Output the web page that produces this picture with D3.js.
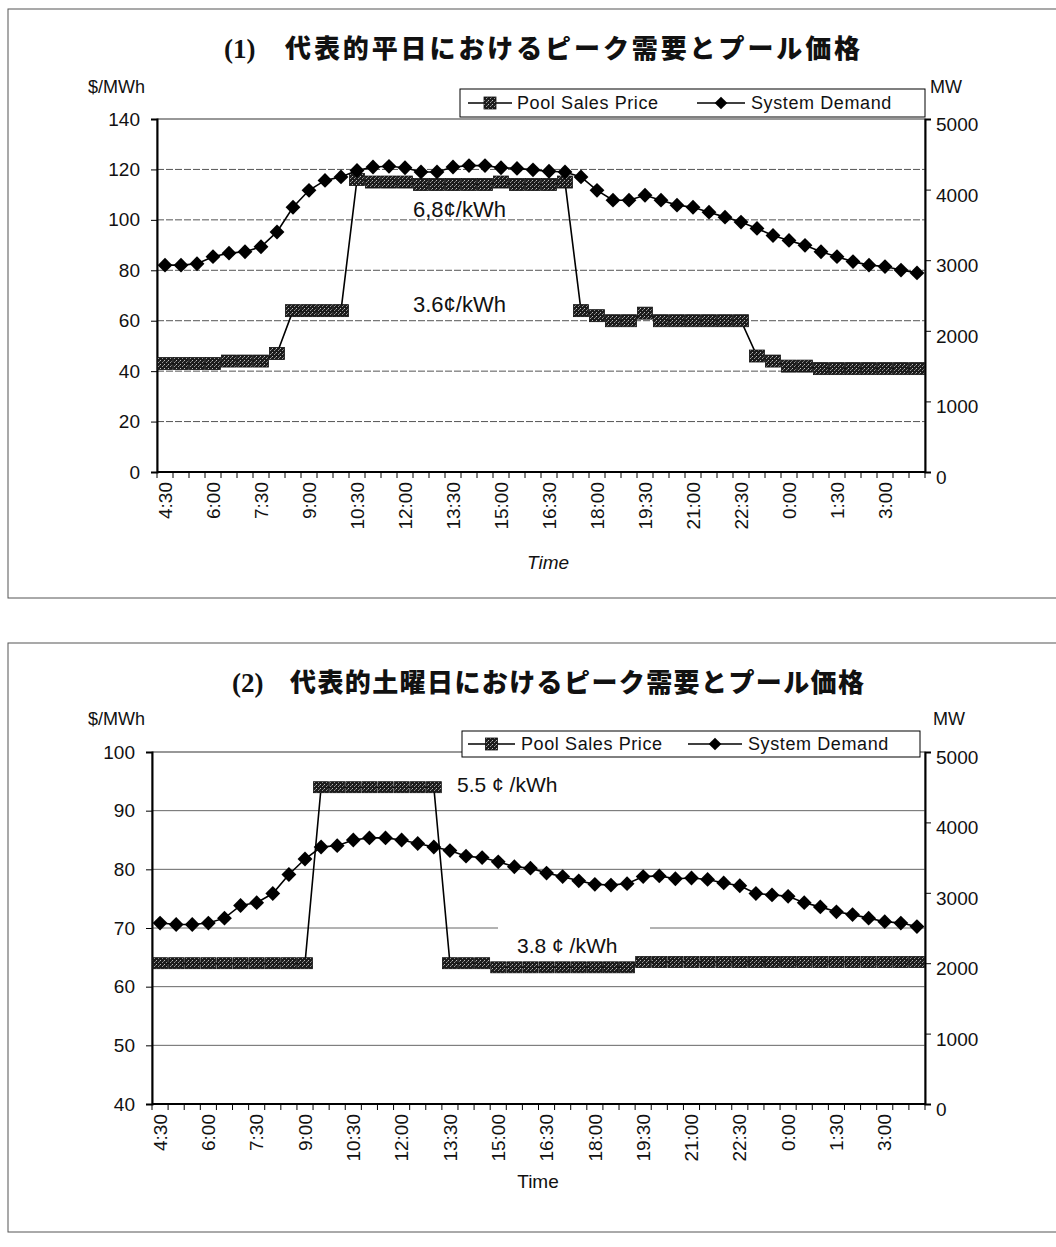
<!DOCTYPE html>
<html>
<head>
<meta charset="utf-8">
<script src="https://cdn.jsdelivr.net/npm/d3@7"></script>
<style>
  body { margin: 0; background: #fff; }
  svg { display: block; }
  text { font-family: "Liberation Sans", Arial, sans-serif; fill: #111; }
</style>
</head>
<body>
<svg id="chart" width="1056" height="1247"></svg>
<script>
// Half-hourly settlement periods, 4:30 through 4:00 the next morning
const times = ["4:30","5:00","5:30","6:00","6:30","7:00","7:30","8:00","8:30","9:00",
  "9:30","10:00","10:30","11:00","11:30","12:00","12:30","13:00","13:30","14:00",
  "14:30","15:00","15:30","16:00","16:30","17:00","17:30","18:00","18:30","19:00",
  "19:30","20:00","20:30","21:00","21:30","22:00","22:30","23:00","23:30","0:00",
  "0:30","1:00","1:30","2:00","2:30","3:00","3:30","4:00"];
const timeLabels = ["4:30","6:00","7:30","9:00","10:30","12:00","13:30","15:00",
  "16:30","18:00","19:30","21:00","22:30","0:00","1:30","3:00"];

// (1) typical weekday
const weekdayPrice = [43,43,43,43,44,44,44,47,64,64,64,64,
  116,115,115,115,114,114,114,114,114,115,114,114,114,115,
  64,62,60,60,63,60,60,60,60,60,60,46,44,42,42,41,41,41,41,41,41,41];
const weekdayDemand = [2930,2930,2950,3050,3100,3120,3190,3400,3750,3990,
  4130,4180,4270,4320,4330,4310,4250,4250,4320,4340,
  4340,4310,4300,4280,4260,4250,4180,3990,3850,3850,
  3920,3850,3780,3750,3680,3610,3540,3450,3350,3280,
  3210,3120,3050,2980,2930,2910,2860,2820];

// (2) typical Saturday
const saturdayPrice = [64,64,64,64,64,64,64,64,64,64,
  94,94,94,94,94,94,94,94,
  64,64,64,63.3,63.3,63.3,63.3,63.3,63.3,63.3,63.3,63.3,
  64.2,64.2,64.2,64.2,64.2,64.2,64.2,64.2,64.2,64.2,64.2,64.2,64.2,64.2,64.2,64.2,64.2,64.2];
const saturdayDemand = [2570,2550,2550,2570,2640,2820,2860,2990,3260,3480,
  3650,3670,3750,3780,3780,3750,3700,3650,3600,3520,
  3500,3440,3370,3350,3280,3230,3170,3120,3110,3130,
  3230,3240,3200,3210,3190,3140,3100,2990,2970,2950,
  2860,2800,2730,2690,2640,2590,2570,2520];

const weekdayPriceTicks = [0,20,40,60,80,100,120,140];
const saturdayPriceTicks = [40,50,60,70,80,90,100];
const demandTicks = [0,1000,2000,3000,4000,5000];

const legendNames = ["Pool Sales Price", "System Demand"];

const svg = d3.select("#chart");

// dithered dark fill used for the price markers
const defs = svg.append("defs");
const pat = defs.append("pattern").attr("id", "dither")
  .attr("width", 4).attr("height", 4).attr("patternUnits", "userSpaceOnUse");
pat.append("rect").attr("width", 4).attr("height", 4).attr("fill", "#1c1c1c");
[[0,0,"#bdbdbd"],[2,2,"#9a9a9a"],[3,1,"#6e6e6e"]].forEach(([x,y,c]) =>
  pat.append("rect").attr("x", x).attr("y", y).attr("width", 1).attr("height", 1).attr("fill", c));

const diamond = d3.symbol(d3.symbolSquare, 110);

function drawChart(c) {
  const g = svg.append("g");

  // outer frame
  g.append("rect").attr("x", c.box[0]).attr("y", c.box[1])
    .attr("width", c.box[2]).attr("height", c.box[3])
    .attr("fill", "none").attr("stroke", "#555").attr("stroke-width", 1);

  // title
  g.append("text").attr("x", c.numX).attr("y", c.titleY)
    .style("font-family", '"Liberation Serif", serif').style("font-weight", "bold")
    .style("font-size", "27px").text(c.num);
  g.append("text").attr("x", c.titleX).attr("y", c.titleY)
    .style("font-family", '"Noto Sans CJK JP", sans-serif').style("font-weight", "900")
    .style("font-size", "26px").style("letter-spacing", c.titleSpacing + "px")
    .text(c.title);

  // axis unit captions
  g.append("text").attr("x", 88).attr("y", c.unitY).style("font-size", "18px").text("$/MWh");
  g.append("text").attr("x", c.mwX).attr("y", c.unitY).style("font-size", "18px").text("MW");

  const P = c.plot;
  const x = d3.scaleBand().domain(times).range([P.l, P.r]);
  const cx = t => x(t) + x.bandwidth() / 2;
  const yP = d3.scaleLinear().domain(c.priceDomain).range([P.b, P.t]);
  const yD = d3.scaleLinear().domain([0, 5000]).range([P.b, P.t]);

  // plot area frame
  g.append("rect").attr("x", P.l).attr("y", P.t).attr("width", P.r - P.l).attr("height", P.b - P.t)
    .attr("fill", "none").attr("stroke", "#333").attr("stroke-width", 1);

  // horizontal gridlines
  g.append("g").selectAll("line")
    .data(c.priceTicks.slice(1, -1)).join("line")
    .attr("x1", P.l).attr("x2", P.r)
    .attr("y1", d => yP(d)).attr("y2", d => yP(d))
    .attr("stroke", c.gridColor).attr("stroke-width", 1)
    .attr("stroke-dasharray", c.gridDash);

  // annotation boxes (white text boxes laid over the grid)
  c.notes.forEach(n => {
    if (n.bg) {
      g.append("rect").attr("x", n.bg[0]).attr("y", n.bg[1])
        .attr("width", n.bg[2]).attr("height", n.bg[3]).attr("fill", "#fff");
    }
  });

  // left axis
  const axL = g.append("g").attr("transform", `translate(${P.l},0)`)
    .call(d3.axisLeft(yP).tickValues(c.priceTicks).tickSize(6).tickPadding(11).tickFormat(d3.format("d")));
  axL.select(".domain").attr("stroke", "#000").attr("stroke-width", 2);
  axL.selectAll(".tick line").attr("stroke", "#000");
  axL.selectAll(".tick text").style("font-size", "19px").attr("fill", "#111")
    .style("font-family", '"Liberation Sans", Arial, sans-serif');

  // right axis
  const axR = g.append("g").attr("transform", `translate(${P.r},0)`)
    .call(d3.axisRight(yD).tickValues(demandTicks).tickSize(6).tickPadding(5).tickFormat(d3.format("d")));
  axR.select(".domain").attr("stroke", "#000").attr("stroke-width", 2);
  axR.selectAll(".tick line").attr("stroke", "#000");
  axR.selectAll(".tick text").style("font-size", "19px").attr("fill", "#111")
    .attr("dy", "0.6em")
    .style("font-family", '"Liberation Sans", Arial, sans-serif');

  // category axis: tick marks between periods, labels every third period
  g.append("line").attr("x1", P.l).attr("x2", P.r).attr("y1", P.b).attr("y2", P.b)
    .attr("stroke", "#000").attr("stroke-width", 2);
  g.append("g").selectAll("line").data(times.concat([null])).join("line")
    .attr("x1", (d, i) => P.l + i * x.step()).attr("x2", (d, i) => P.l + i * x.step())
    .attr("y1", P.b).attr("y2", P.b + 6).attr("stroke", "#000");
  g.append("g").selectAll("text").data(timeLabels).join("text")
    .attr("transform", d => `translate(${cx(d)},${P.b + 10}) rotate(-90)`)
    .attr("text-anchor", "end").attr("dy", "0.35em")
    .style("font-size", "19px").text(d => d);

  g.append("text").attr("x", c.timeX).attr("y", c.timeY).attr("text-anchor", "middle")
    .style("font-size", "19px").style("font-style", c.timeItalic ? "italic" : "normal")
    .text("Time");

  // annotation text
  c.notes.forEach(n => {
    g.append("text").attr("x", n.x).attr("y", n.y).style("font-size", n.size + "px").text(n.text);
  });

  // price series
  const priceLine = d3.line().x((d, i) => cx(times[i])).y(d => yP(d));
  g.append("path").datum(c.price).attr("d", priceLine)
    .attr("fill", "none").attr("stroke", "#000").attr("stroke-width", 1.6);
  g.append("g").selectAll("rect").data(c.price).join("rect")
    .attr("x", (d, i) => cx(times[i]) - c.sq[0] / 2)
    .attr("y", d => yP(d) - c.sq[1] / 2)
    .attr("width", c.sq[0]).attr("height", c.sq[1])
    .attr("fill", "url(#dither)").attr("stroke", "#111").attr("stroke-width", 0.8);

  // demand series (secondary axis)
  const demandLine = d3.line().x((d, i) => cx(times[i])).y(d => yD(d));
  g.append("path").datum(c.demand).attr("d", demandLine)
    .attr("fill", "none").attr("stroke", "#000").attr("stroke-width", 1.6);
  g.append("g").selectAll("path").data(c.demand).join("path")
    .attr("d", diamond)
    .attr("transform", (d, i) => `translate(${cx(times[i])},${yD(d)}) rotate(45)`)
    .attr("fill", "#000");

  // legend
  const L = c.legend;
  const lg = g.append("g");
  lg.append("rect").attr("x", L.x).attr("y", L.y).attr("width", L.w).attr("height", L.h)
    .attr("fill", "#fff").attr("stroke", "#000").attr("stroke-width", 1);
  const my = L.y + L.h / 2;
  lg.append("line").attr("x1", L.s1[0]).attr("x2", L.s1[1]).attr("y1", my).attr("y2", my)
    .attr("stroke", "#000").attr("stroke-width", 1.5);
  lg.append("rect").attr("x", (L.s1[0] + L.s1[1]) / 2 - 6).attr("y", my - 6)
    .attr("width", 12).attr("height", 12)
    .attr("fill", "url(#dither)").attr("stroke", "#111").attr("stroke-width", 0.8);
  lg.append("text").attr("x", L.t1).attr("y", my).attr("dy", "0.35em")
    .style("font-size", "18px").style("letter-spacing", "0.6px").text(legendNames[0]);
  lg.append("line").attr("x1", L.s2[0]).attr("x2", L.s2[1]).attr("y1", my).attr("y2", my)
    .attr("stroke", "#000").attr("stroke-width", 1.5);
  lg.append("path").attr("d", d3.symbol(d3.symbolSquare, 80))
    .attr("transform", `translate(${(L.s2[0] + L.s2[1]) / 2},${my}) rotate(45)`)
    .attr("fill", "#000");
  lg.append("text").attr("x", L.t2).attr("y", my).attr("dy", "0.35em")
    .style("font-size", "18px").style("letter-spacing", "0.6px").text(legendNames[1]);
}

drawChart({
  box: [8, 9, 1060, 589],
  num: "(1)", numX: 224, title: "代表的平日におけるピーク需要とプール価格",
  titleX: 285, titleY: 58, titleSpacing: 2.9,
  unitY: 93, mwX: 930,
  plot: { l: 157, r: 925, t: 119, b: 472 },
  priceDomain: [0, 140], priceTicks: weekdayPriceTicks,
  price: weekdayPrice, demand: weekdayDemand,
  gridColor: "#555", gridDash: "7,2",
  sq: [15, 12],
  timeX: 548, timeY: 569, timeItalic: true,
  notes: [
    { text: "6,8¢/kWh", x: 413, y: 217, size: 22 },
    { text: "3.6¢/kWh", x: 413, y: 312, size: 22 }
  ],
  legend: { x: 460, y: 89, w: 465, h: 28, s1: [468, 512], t1: 517, s2: [697, 745], t2: 751 }
});

drawChart({
  box: [8, 643, 1060, 589],
  num: "(2)", numX: 232, title: "代表的土曜日におけるピーク需要とプール価格",
  titleX: 290, titleY: 692, titleSpacing: 1.4,
  unitY: 725, mwX: 933,
  plot: { l: 152, r: 925, t: 752, b: 1104 },
  priceDomain: [40, 100], priceTicks: saturdayPriceTicks,
  price: saturdayPrice, demand: saturdayDemand,
  gridColor: "#666", gridDash: null,
  sq: [15, 11],
  timeX: 538, timeY: 1188, timeItalic: false,
  notes: [
    { text: "5.5 ¢ /kWh", x: 457, y: 792, size: 21 },
    { text: "3.8 ¢ /kWh", x: 517, y: 953, size: 21, bg: [498, 925, 152, 32] }
  ],
  legend: { x: 462, y: 731, w: 458, h: 26, s1: [468, 515], t1: 521, s2: [688, 742], t2: 748 }
});
</script>
</body>
</html>
